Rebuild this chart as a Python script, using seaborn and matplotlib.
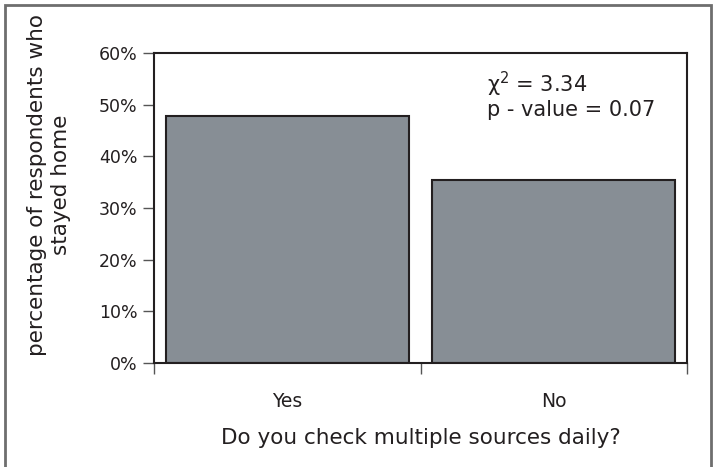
import numpy as np
import pandas as pd
import seaborn as sns
import matplotlib.pyplot as plt
from matplotlib.patches import Rectangle
from matplotlib.ticker import PercentFormatter, FixedLocator

# data
answers = ["Yes", "No"]
stayed_home = [47.8, 35.4]
y_ticks = [0, 10, 20, 30, 40, 50, 60]

df = pd.DataFrame({"answer": answers, "pct": stayed_home})

sns.set_style("white")
plt.rcParams['font.family'] = ['DejaVu Sans']
ink = "#231f20"

fig = plt.figure(figsize=(7.14, 4.67), dpi=100)
ax = fig.add_axes([154/714, 1-363/467, 533/714, 310/467])

sns.barplot(data=df, x="answer", y="pct", color="#878e95", saturation=1,
            width=0.91, edgecolor=ink, linewidth=1.5, ax=ax)

ax.set_ylim(0, 60)
ax.set_xlim(-0.5, 1.5)
ax.set_yticks(y_ticks)
ax.yaxis.set_major_formatter(PercentFormatter(decimals=0))
ax.tick_params(axis="y", direction="out", length=8, width=1, color="#555555",
               labelsize=12.5, labelcolor=ink, left=True, pad=4)

# category boundaries carry the ticks, labels sit in the middle
ax.xaxis.set_major_locator(FixedLocator([-0.5, 0.5, 1.5]))
ax.xaxis.set_minor_locator(FixedLocator([0, 1]))
ax.set_xticklabels([], minor=False)
ax.set_xticklabels(answers, minor=True)
ax.tick_params(axis="x", which="major", direction="out", length=8, width=1,
               color="#555555", bottom=True)
ax.tick_params(axis="x", which="minor", length=0, labelsize=13.5,
               labelcolor=ink, pad=21)

for side in ["left", "bottom", "top", "right"]:
    ax.spines[side].set_color(ink)
    ax.spines[side].set_linewidth(1.5)
    ax.spines[side].set_visible(True)

ax.set_xlabel("Do you check multiple sources daily?", fontsize=15.5,
              color=ink, labelpad=12)
ax.set_ylabel("percentage of respondents who\nstayed home", fontsize=15.5,
              color=ink, linespacing=1.3)
ax.yaxis.set_label_coords(-0.155, 0.574)

ax.text(0.625, 0.945, "χ$^2$ = 3.34\np - value = 0.07", transform=ax.transAxes,
        fontsize=15, color=ink, va="top", ha="left", linespacing=1.05)

# grey frame around the whole picture (open at the bottom)
fig.patches.append(Rectangle((5/714, -0.05), 706/714, 1.05 - 5/467,
                             transform=fig.transFigure, fill=False,
                             edgecolor="#6e6e6e", linewidth=2))

fig.savefig("out.png", dpi=100)
